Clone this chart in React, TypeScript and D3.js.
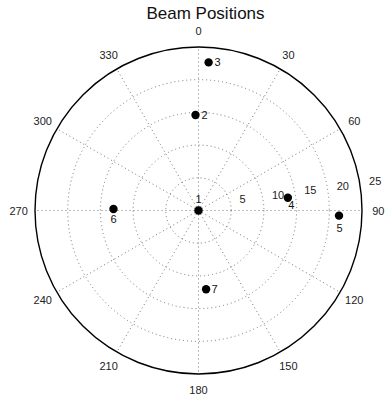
import React from "react";
import * as d3 from "d3";

const pointLabels = ["1", "2", "3", "4", "5", "6", "7"];
const pointRadius = [0, 14.6, 22.7, 13.8, 21.5, 13.0, 12.1];
const pointAngle = [0, 358.2, 3.9, 81.9, 92.1, 271, 174.5];
const ringTicks = [5, 10, 15, 20, 25];
const angleTicks = [0, 30, 60, 90, 120, 150, 180, 210, 240, 270, 300, 330];
const title = "Beam Positions";

// label placement (style)
const labelOffsets: [number, number, string][] = [
  [0, -12, "middle"],
  [6, 0, "start"],
  [6, 0, "start"],
  [3.5, 7.5, "middle"],
  [0.5, 12, "middle"],
  [0, 10, "middle"],
  [5.5, 0, "start"],
];

const W = 389;
const H = 397;
const cx = 198.5;
const cy = 210.5;
const R = 163.5;
const font = "'Liberation Sans', Arial, Helvetica, sans-serif";

export default function App() {
  const r = d3.scaleLinear().domain([0, 25]).range([0, R]);
  const rad = (deg: number) => (deg * Math.PI) / 180;
  const px = (rv: number, a: number) => cx + r(rv) * Math.sin(rad(a));
  const py = (rv: number, a: number) => cy - r(rv) * Math.cos(rad(a));
  const gridColor = "#666";
  const circlePath = (rv: number) => {
    const p = d3.path();
    p.arc(cx, cy, r(rv), 0, Math.PI * 2);
    return p.toString();
  };
  return (
    <svg
      width={W}
      height={H}
      style={{ position: "absolute", left: 0, top: 0, background: "#fff" }}
      fontFamily={font}
    >
      <rect x={0} y={0} width={W} height={H} fill="#fff" />
      {ringTicks.slice(0, -1).map((t) => (
        <path
          key={"ring" + t}
          d={circlePath(t)}
          fill="none"
          stroke={gridColor}
          strokeWidth={0.9}
          strokeDasharray="1,3"
        />
      ))}
      {angleTicks.map((a) => (
        <line
          key={"spoke" + a}
          x1={cx}
          y1={cy}
          x2={px(25, a)}
          y2={py(25, a)}
          stroke={gridColor}
          strokeWidth={0.9}
          strokeDasharray="1,3"
        />
      ))}
      <path d={circlePath(25)} fill="none" stroke="#000" strokeWidth={1.4} />
      {angleTicks.map((a) => (
        <text
          key={"at" + a}
          x={px(25 * 1.1, a)}
          y={py(25 * 1.1, a)}
          fontSize={11}
          textAnchor="middle"
          dominantBaseline="central"
          fill="#222"
        >
          {a}
        </text>
      ))}
      {ringTicks.map((t) => (
        <text
          key={"rt" + t}
          x={px(t + 0.25, 82) + 7}
          y={py(t + 0.25, 82) - 2.5}
          fontSize={11}
          textAnchor="start"
          fill="#222"
        >
          {t}
        </text>
      ))}
      {pointLabels.map((lab, i) => (
        <g key={"pt" + lab}>
          <circle cx={px(pointRadius[i], pointAngle[i])} cy={py(pointRadius[i], pointAngle[i])} r={4.2} fill="#000" />
          <text
            x={px(pointRadius[i], pointAngle[i]) + labelOffsets[i][0]}
            y={py(pointRadius[i], pointAngle[i]) + labelOffsets[i][1]}
            fontSize={11}
            textAnchor={labelOffsets[i][2]}
            dominantBaseline="central"
            fill="#111"
          >
            {lab}
          </text>
        </g>
      ))}
      <text x={205.5} y={19} fontSize={17} textAnchor="middle" fill="#111">
        {title}
      </text>
    </svg>
  );
}
